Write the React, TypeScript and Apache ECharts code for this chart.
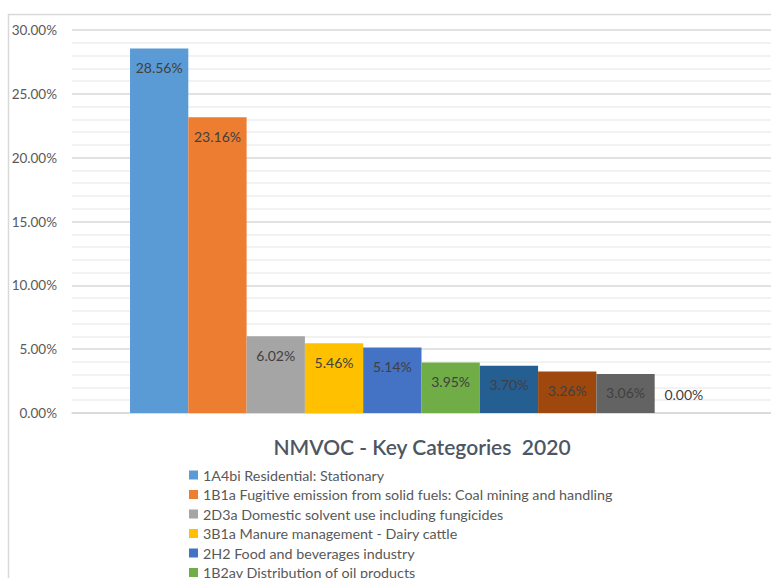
import React, { useEffect, useRef } from "react";
import * as echarts from "echarts";

const seriesNames = [
  "1A4bi Residential: Stationary",
  "1B1a Fugitive emission from solid fuels: Coal mining and handling",
  "2D3a Domestic solvent use including fungicides",
  "3B1a Manure management - Dairy cattle",
  "2H2 Food and beverages industry",
  "1B2av Distribution of oil products",
  "2D3d Coating applications",
  "3B3 Manure management - Swine",
  "2D3g Chemical products",
  "1A3bi Road transport: Passenger cars",
];
const values = [0.2856, 0.2316, 0.0602, 0.0546, 0.0514, 0.0395, 0.037, 0.0326, 0.0306, 0.0];
const colors = [
  "#5B9BD5",
  "#ED7D31",
  "#A5A5A5",
  "#FFC000",
  "#4472C4",
  "#70AD47",
  "#255E91",
  "#9E480E",
  "#636363",
  "#997300",
];
const legendVisible = seriesNames.slice(0, 6);
const categories = [""];
const chartTitle = "NMVOC - Key Categories  2020";

const FONT = "Lato, 'Open Sans', sans-serif";

export default function App() {
  const ref = useRef<HTMLDivElement>(null);
  useEffect(() => {
    if (!ref.current) return;
    const chart = echarts.init(ref.current, undefined, { renderer: "svg" });
    const series = seriesNames.map((name, i) => ({
      name,
      type: "bar",
      barGap: "0%",
      barCategoryGap: "16.6%",
      itemStyle: { color: colors[i] },
      label: {
        show: true,
        position: values[i] === 0 ? "top" : "insideTop",
        distance: 12,
        color: "#404040",
        fontSize: 14,
        fontFamily: FONT,
        formatter: (p: any) => (p.value * 100).toFixed(2) + "%",
      },
      data: [values[i]],
    }));
    chart.setOption({
      animation: false,
      textStyle: { fontFamily: FONT },
      grid: { left: 72, top: 30, width: 700, height: 383 },
      xAxis: {
        type: "category",
        data: categories,
        axisLine: { show: true, lineStyle: { color: "#d9d9d9", width: 1.5 } },
        axisTick: { show: false },
        axisLabel: { show: false },
      },
      yAxis: {
        type: "value",
        min: 0,
        max: 0.3,
        interval: 0.05,
        axisLine: { show: false },
        axisTick: { show: false },
        axisLabel: {
          color: "#595959",
          fontSize: 13.5,
          fontFamily: FONT,
          margin: 15,
          formatter: (v: number) => (v * 100).toFixed(2) + "%",
        },
        splitLine: { show: true, lineStyle: { color: "#d9d9d9", width: 1.5 } },
        minorTick: { show: false, splitNumber: 5 },
        minorSplitLine: { show: true, lineStyle: { color: "#eeeeee", width: 1.5 } },
      },
      legend: {
        orient: "vertical",
        left: 184,
        top: 462,
        height: 400,
        itemWidth: 9,
        itemHeight: 9,
        itemGap: 3.5,
        icon: "rect",
        data: legendVisible,
        textStyle: { color: "#595959", fontSize: 14.3, fontFamily: FONT, lineHeight: 16 },
      },
      graphic: [
        {
          type: "rect",
          shape: { x: 8.5, y: 14.5, width: 800, height: 600 },
          style: { fill: "none", stroke: "#d9d9d9", lineWidth: 1.5 },
          silent: true,
        },
        {
          type: "text",
          x: 422,
          y: 446,
          style: {
            text: chartTitle,
            fill: "#4d5663",
            font: `600 21px ${FONT}`,
            textAlign: "center",
            textVerticalAlign: "middle",
          },
        },
      ],
      series,
    });
    return () => chart.dispose();
  }, []);
  return (
    <div
      ref={ref}
      style={{ position: "fixed", left: 0, top: 0, width: 771, height: 578, background: "#fff" }}
    />
  );
}
